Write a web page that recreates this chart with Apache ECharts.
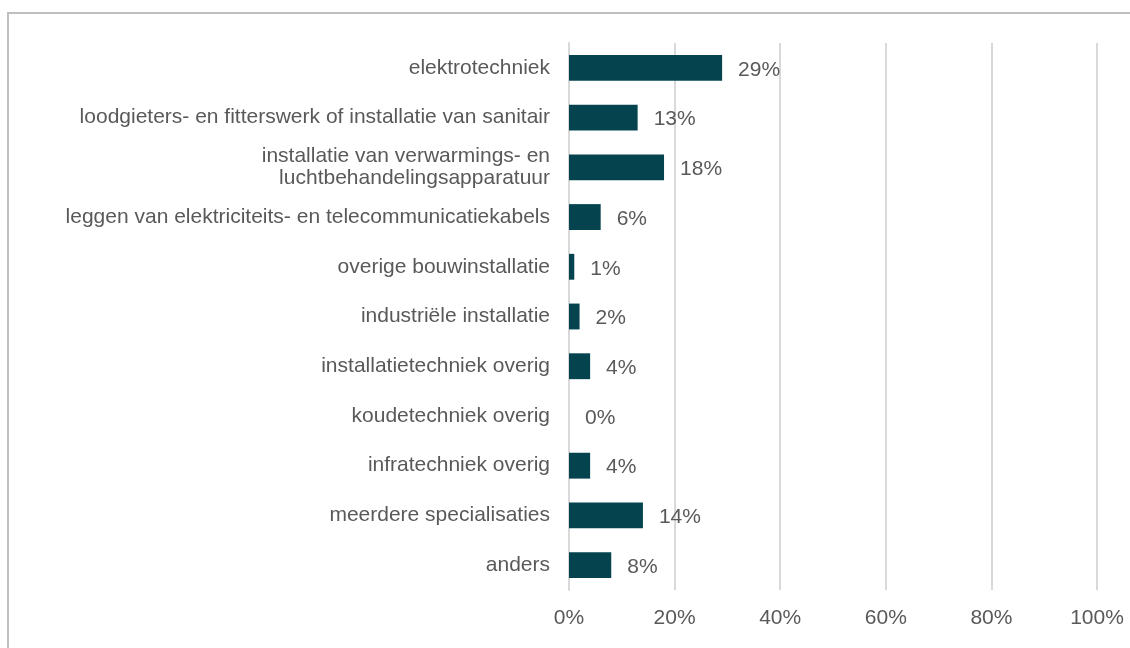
<!DOCTYPE html>
<html>
<head>
<meta charset="utf-8">
<script src="https://cdn.jsdelivr.net/npm/echarts@6/dist/echarts.min.js"></script>
<style>
  html, body { margin: 0; padding: 0; background: #ffffff; }
  #chart { width: 1130px; height: 648px; }
</style>
</head>
<body>
<div id="chart"></div>
<script>
// Specialisaties binnen de installatiesector (aandeel in %)
const categories = [
  'elektrotechniek',
  'loodgieters- en fitterswerk of installatie van sanitair',
  'installatie van verwarmings- en\nluchtbehandelingsapparatuur',
  'leggen van elektriciteits- en telecommunicatiekabels',
  'overige bouwinstallatie',
  'industriële installatie',
  'installatietechniek overig',
  'koudetechniek overig',
  'infratechniek overig',
  'meerdere specialisaties',
  'anders'
];
const shares = [29, 13, 18, 6, 1, 2, 4, 0, 4, 14, 8];
const axisTicks = [0, 20, 40, 60, 80, 100];

const textColor = '#595959';
const font = 'Liberation Sans, Arial, sans-serif';

const chart = echarts.init(document.getElementById('chart'), null, { renderer: 'canvas' });
chart.setOption({
  animation: false,
  backgroundColor: '#ffffff',
  graphic: [{
    type: 'rect',
    silent: true,
    shape: { x: 8, y: 13, width: 1200, height: 700 },
    style: { fill: 'none', stroke: '#bfbfbf', lineWidth: 2 }
  }],
  grid: { left: 569, right: 33, top: 43, bottom: 58, containLabel: false },
  xAxis: {
    type: 'value',
    min: axisTicks[0],
    max: axisTicks[axisTicks.length - 1],
    interval: axisTicks[1] - axisTicks[0],
    axisLine: { show: false },
    axisTick: { show: false },
    splitLine: { show: true, lineStyle: { color: '#d9d9d9', width: 2 } },
    axisLabel: {
      formatter: '{value}%',
      color: textColor,
      fontFamily: font,
      fontSize: 21,
      margin: 18
    }
  },
  yAxis: {
    type: 'category',
    data: categories,
    inverse: true,
    axisLine: { show: true, lineStyle: { color: '#d9d9d9', width: 2 } },
    axisTick: { show: false },
    axisLabel: {
      color: textColor,
      fontFamily: font,
      fontSize: 21,
      lineHeight: 22,
      margin: 19,
      align: 'right',
      padding: [4, 0, 0, 0]
    }
  },
  series: [{
    type: 'bar',
    data: shares,
    barCategoryGap: '48%',
    itemStyle: { color: '#05444f' },
    label: {
      show: true,
      position: 'right',
      distance: 16,
      offset: [0, 2],
      formatter: '{c}%',
      color: textColor,
      fontFamily: font,
      fontSize: 21
    }
  }]
});
</script>
</body>
</html>
